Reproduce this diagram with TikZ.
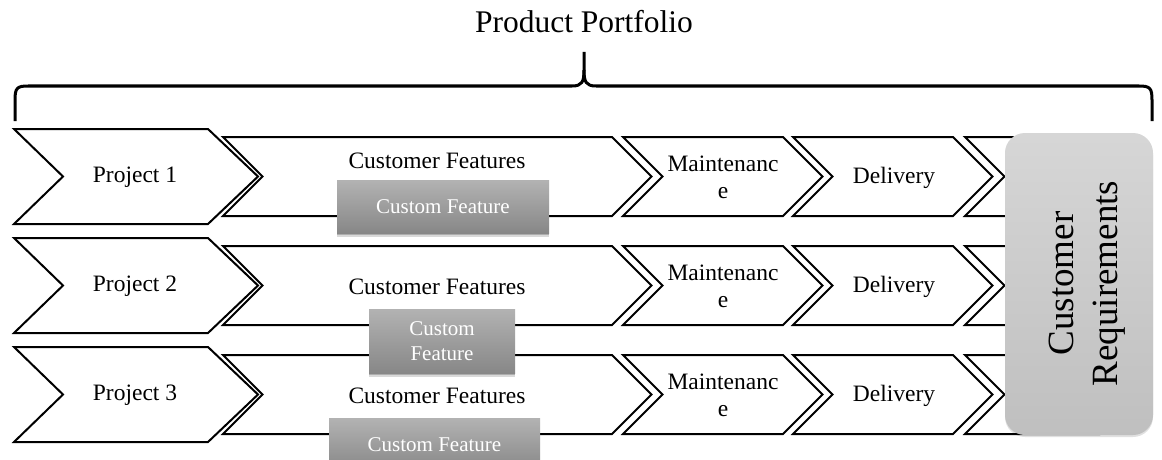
\documentclass[tikz,border=0pt]{standalone}
\usepackage{fontspec}
\setmainfont{Liberation Serif}
\usetikzlibrary{shadows}
\definecolor{featTop}{gray}{0.70}
\definecolor{featBot}{gray}{0.53}
\definecolor{reqTop}{gray}{0.84}
\definecolor{reqBot}{gray}{0.75}
% one process step: notched left end, pointed right end
\newcommand\stepshape[3]{%
  \draw[chev] (#1,137+#3) -- (#2,137+#3) -- (#2+39.5,176.5+#3)
    -- (#2,216+#3) -- (#1,216+#3) -- (#1+39.5,176.5+#3) -- cycle;}
\begin{document}
\begin{tikzpicture}[x=1pt,y=-1pt,
  chev/.style={draw=black, line width=2pt, fill=white, line join=miter},
  lbl/.style={font=\fontsize{23.5}{27}\selectfont, align=center, inner sep=0pt},
  featbox/.style={top color=featTop, bottom color=featBot, draw=none,
    drop shadow={shadow xshift=0pt, shadow yshift=-4pt, opacity=0.15, fill=black},
    drop shadow={shadow xshift=0pt, shadow yshift=-2pt, opacity=0.2, fill=black},
    text=white, font=\fontsize{21}{25}\selectfont, align=center, inner sep=0pt},
  brace/.style={draw=black, line width=3pt, line cap=butt, line join=round}]
\clip (0,0) rectangle (1162,460);
\fill[white] (0,0) rectangle (1162,460);

% title and brace
\node[font=\fontsize{31.5}{36}\selectfont, anchor=base, inner sep=0pt] (title) at (584,33) {Product Portfolio};
\draw[brace] (15,121) -- (15,100) .. controls (15,88) and (17,86) .. (28,86)
  -- (572,86) .. controls (582,86) and (584,82) .. (584,70) -- (584,52);
\draw[brace] (584,70) .. controls (584,82) and (586,86) .. (596,86)
  -- (1139,86) .. controls (1150,86) and (1152,88) .. (1152,100) -- (1152,121);

% three rows of steps
\foreach \r/\dy in {1/0,2/109,3/218}{
  \draw[chev] (14,129+\dy) -- (208,129+\dy) -- (258,176.5+\dy) -- (208,224+\dy)
    -- (14,224+\dy) -- (63,176.5+\dy) -- cycle;
  \stepshape{223}{612}{\dy}
  \stepshape{623}{783}{\dy}
  \stepshape{793}{953}{\dy}
  \stepshape{965}{1100}{\dy}
  \node[lbl] (proj\r) at (135,177+\dy) {Project \r};
  \node[lbl] (maint\r) at (723,177+\dy) {Maintenanc\\e};
  \node[lbl] (deliv\r) at (894,178+\dy) {Delivery};
}
\node[lbl] (cf1) at (437,161) {Customer Features};
\node[lbl] (cf2) at (437,287) {Customer Features};
\node[lbl] (cf3) at (437,396) {Customer Features};

% custom feature boxes
\node[featbox, minimum width=212pt, minimum height=53pt] (feat1) at (443,206.5) {Custom Feature};
\node[featbox, minimum width=146pt, minimum height=64pt] (feat2) at (442,341) {Custom\\Feature};
\node[featbox, minimum width=211pt, minimum height=53pt] (feat3) at (434.5,444.5) {Custom Feature};

% customer requirements panel
\node[draw=none, top color=reqTop, bottom color=reqBot, rounded corners=20pt,
  drop shadow={shadow xshift=0pt, shadow yshift=-2pt, opacity=0.12, fill=black},
  minimum width=148pt, minimum height=302pt, inner sep=0pt] (reqbox) at (1079,284) {};
\node[rotate=90, font=\fontsize{37}{44}\selectfont, align=center, inner sep=0pt] (req) at (1087,283.5) {Customer\\Requirements};
\end{tikzpicture}
\end{document}
